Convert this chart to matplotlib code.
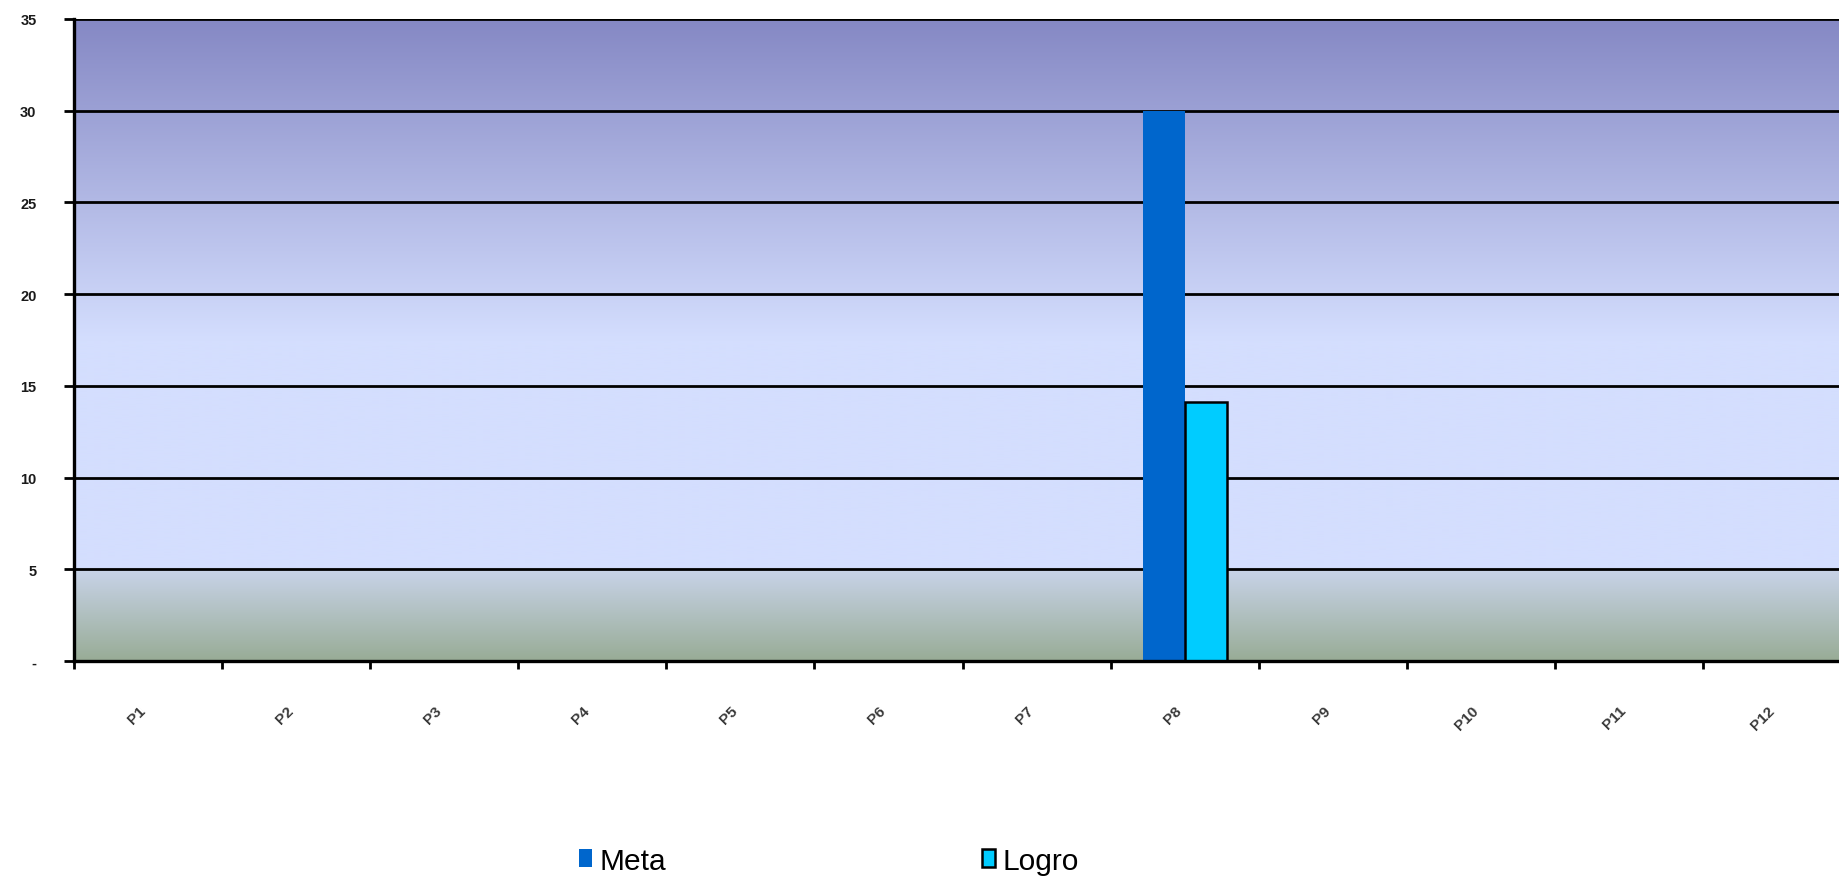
import numpy as np
import matplotlib
matplotlib.use("Agg")
import matplotlib.pyplot as plt
from matplotlib.patches import Patch
from matplotlib.ticker import FixedLocator, FuncFormatter

plt.rcParams['font.family'] = ['Liberation Sans', 'DejaVu Sans']

# --- data ---
periods = ["P1", "P2", "P3", "P4", "P5", "P6", "P7", "P8", "P9", "P10", "P11", "P12"]
meta = [0, 0, 0, 0, 0, 0, 0, 30, 0, 0, 0, 0]
logro = [0, 0, 0, 0, 0, 0, 0, 14.1, 0, 0, 0, 0]
series_names = ["Meta", "Logro"]
y_ticks = [0, 5, 10, 15, 20, 25, 30, 35]

W, H = 1839, 878
fig = plt.figure(figsize=(W / 100, H / 100), dpi=100)
fig.patch.set_facecolor("white")

ax_left, ax_top, ax_bottom = 74, 20, 662
cat_px = 148.1
ax = fig.add_axes([ax_left / W, 1 - ax_bottom / H,
                   len(periods) * cat_px / W, (ax_bottom - ax_top) / H])

ymin, ymax = 0, 35
x = np.arange(len(periods))
ax.set_xlim(-0.5, len(periods) - 0.5)
ax.set_ylim(ymin, ymax)

# vertical gradient fill of the plot area
stops_v = [0.0, 4.95, 5.1, 17.5, 35.0]
stops_c = np.array([
    [0x98, 0xAC, 0x96],
    [0xC8, 0xD3, 0xE8],
    [0xD4, 0xDE, 0xFE],
    [0xD4, 0xDE, 0xFE],
    [0x85, 0x88, 0xC4],
]) / 255.0
rows = np.linspace(ymin, ymax, 1200)
grad = np.stack([np.interp(rows, stops_v, stops_c[:, k]) for k in range(3)], axis=1)
grad = grad[:, None, :]
ax.imshow(grad, extent=(-0.5, len(periods) - 0.5, ymin, ymax), origin="lower",
          aspect="auto", interpolation="bilinear", zorder=0)

# horizontal gridlines
for v in y_ticks[1:]:
    ax.axhline(v, color="black", lw=2.0, zorder=1)

# bars
bw = 0.285
ax.bar(x - bw / 2, meta, width=bw, color="#0066CC", edgecolor="none", zorder=3)
ax.bar(x + bw / 2, logro, width=bw, color="#00CCFF", edgecolor="black",
       linewidth=1.8, zorder=3)

# axes styling
for side in ["top", "right"]:
    ax.spines[side].set_visible(False)
for side in ["left", "bottom"]:
    ax.spines[side].set_color("black")
    ax.spines[side].set_linewidth(2.4)
    ax.spines[side].set_zorder(4)

ax.yaxis.set_major_locator(FixedLocator(y_ticks))
ax.yaxis.set_major_formatter(FuncFormatter(lambda v, p: "-" if v == 0 else f"{v:g}"))
ax.tick_params(axis="y", direction="out", length=7, width=2, color="black",
               labelsize=10.5, labelcolor="#1a1a1a", pad=20)
for lbl in ax.get_yticklabels():
    lbl.set_fontweight("bold")

# category boundaries get the tick marks, centers carry the labels
ax.xaxis.set_major_locator(FixedLocator(np.arange(-0.5, len(periods), 1.0)))
ax.xaxis.set_major_formatter(FuncFormatter(lambda v, p: ""))
ax.xaxis.set_minor_locator(FixedLocator(x))
ax.set_xticklabels(periods, minor=True)
ax.tick_params(axis="x", which="major", direction="out", length=6, width=2,
               color="black")
ax.tick_params(axis="x", which="minor", length=0, labelsize=11,
               labelcolor="#3a3a3a", pad=30)
for lbl in ax.get_xticklabels(minor=True):
    lbl.set_rotation(45)
    lbl.set_ha("right")
    lbl.set_fontweight("bold")

# legend
handles = [Patch(facecolor="#0066CC", edgecolor="none", label=series_names[0]),
           Patch(facecolor="#00CCFF", edgecolor="black", linewidth=1.8,
                 label=series_names[1])]
fig.legend(handles=handles, loc="center left",
           bbox_to_anchor=(579 / W, 1 - 862 / H), ncol=2, frameon=False,
           fontsize=21.5, borderpad=0, borderaxespad=0, handlelength=0.42,
           handleheight=0.55, handletextpad=0.25, columnspacing=10.6)

fig.savefig("out.png", dpi=100, facecolor="white")
